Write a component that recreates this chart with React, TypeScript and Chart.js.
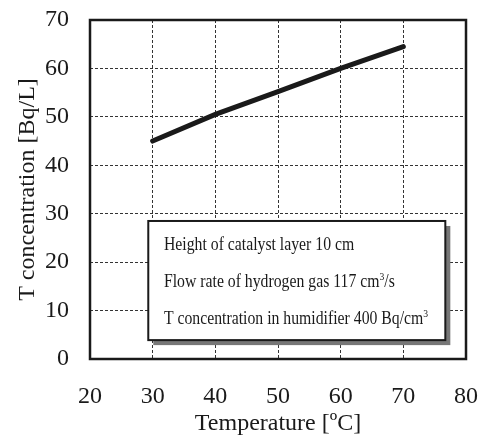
import React, { useEffect, useRef } from "react";
import { Chart, registerables } from "chart.js";

Chart.register(...registerables);

const temperatures = [30, 40, 50, 60, 70];
const concentrations = [45, 50.5, 55.2, 60, 64.5];
const xTitle = "Temperature [ºC]";
const yTitle = "T concentration [Bq/L]";
const noteLines = [
  { text: "Height of catalyst layer 10 cm", sup: "", after: "" },
  { text: "Flow rate of hydrogen gas 117 cm", sup: "3", after: "/s" },
  { text: "T concentration in humidifier 400 Bq/cm", sup: "3", after: "" },
];

// note box placement in data units
const NOTE_BOX = { x0: 29.3, x1: 76.7, y0: 3.9, y1: 28.5 };
const NOTE_TEXT_X = 31.8;
const NOTE_BASELINES = [22.5, 14.9, 7.2];

const FONT = "'Liberation Serif', 'Times New Roman', serif";

const frameAndNote = {
  id: "frameAndNote",
  afterDraw(chart: any) {
    const { ctx, chartArea, scales } = chart;
    const xs = scales.x;
    const ys = scales.y;
    ctx.save();
    ctx.strokeStyle = "#1a1a1a";
    ctx.lineWidth = 2.5;
    ctx.setLineDash([]);
    ctx.strokeRect(chartArea.left, chartArea.top, chartArea.right - chartArea.left, chartArea.bottom - chartArea.top);

    const bx0 = xs.getPixelForValue(NOTE_BOX.x0);
    const bx1 = xs.getPixelForValue(NOTE_BOX.x1);
    const by0 = ys.getPixelForValue(NOTE_BOX.y1);
    const by1 = ys.getPixelForValue(NOTE_BOX.y0);
    ctx.fillStyle = "#777";
    ctx.fillRect(bx0 + 5, by0 + 5, bx1 - bx0, by1 - by0);
    ctx.fillStyle = "#fff";
    ctx.fillRect(bx0, by0, bx1 - bx0, by1 - by0);
    ctx.strokeStyle = "#1a1a1a";
    ctx.lineWidth = 2;
    ctx.strokeRect(bx0, by0, bx1 - bx0, by1 - by0);

    const tx = xs.getPixelForValue(NOTE_TEXT_X);
    ctx.fillStyle = "#1a1a1a";
    ctx.textBaseline = "alphabetic";
    ctx.textAlign = "left";
    const sx = 0.875;
    noteLines.forEach((ln, i) => {
      const ty = ys.getPixelForValue(NOTE_BASELINES[i]);
      ctx.save();
      ctx.translate(tx, ty);
      ctx.scale(sx, 1);
      ctx.font = `18px ${FONT}`;
      ctx.fillText(ln.text, 0, 0);
      let w = ctx.measureText(ln.text).width;
      if (ln.sup) {
        ctx.font = `11px ${FONT}`;
        ctx.fillText(ln.sup, w, -7);
        w += ctx.measureText(ln.sup).width;
        ctx.font = `18px ${FONT}`;
        ctx.fillText(ln.after, w, 0);
      }
      ctx.restore();
    });
    ctx.restore();
  },
};

const zeroPad = (s: any) => {
  s.paddingTop = 0;
  s.paddingBottom = 0;
  s.paddingLeft = 0;
  s.paddingRight = 0;
};

export default function App() {
  const ref = useRef<HTMLCanvasElement | null>(null);
  useEffect(() => {
    if (!ref.current) return;
    const chart = new Chart(ref.current, {
      type: "line",
      data: {
        datasets: [
          {
            data: temperatures.map((t, i) => ({ x: t, y: concentrations[i] })),
            borderColor: "#1a1a1a",
            borderWidth: 5,
            borderCapStyle: "round",
            pointRadius: 0,
            tension: 0,
            fill: false,
          },
        ],
      },
      options: {
        responsive: false,
        animation: false,
        devicePixelRatio: 1,
        layout: { padding: { left: 0, top: 20, right: 18, bottom: 0 } },
        plugins: { legend: { display: false }, tooltip: { enabled: false } },
        scales: {
          x: {
            type: "linear",
            min: 20,
            max: 80,
            ticks: { stepSize: 10, padding: 23, color: "#1a1a1a", font: { family: FONT, size: 24 } },
            grid: { color: "#333", lineWidth: 1, drawTicks: false },
            border: { display: false, dash: [3, 2] },
            title: { display: true, text: xTitle, color: "#1a1a1a", font: { family: FONT, size: 24 }, padding: { top: 0, bottom: 0 } },
            afterFit: (s: any) => { s.height = 79; zeroPad(s); },
          },
          y: {
            type: "linear",
            min: 0,
            max: 70,
            ticks: { stepSize: 10, padding: 21, color: "#1a1a1a", font: { family: FONT, size: 24 } },
            grid: { color: "#333", lineWidth: 1, drawTicks: false },
            border: { display: false, dash: [3, 2] },
            title: { display: true, text: yTitle, color: "#1a1a1a", font: { family: FONT, size: 24 }, padding: { top: 13, bottom: 0 } },
            afterFit: (s: any) => { s.width = 90; zeroPad(s); },
          },
        },
      },
      plugins: [frameAndNote],
    } as any);
    return () => chart.destroy();
  }, []);
  return (
    <div style={{ position: "absolute", left: 0, top: 0, width: 484, height: 438, background: "#fff" }}>
      <canvas ref={ref} width={484} height={438} />
    </div>
  );
}
